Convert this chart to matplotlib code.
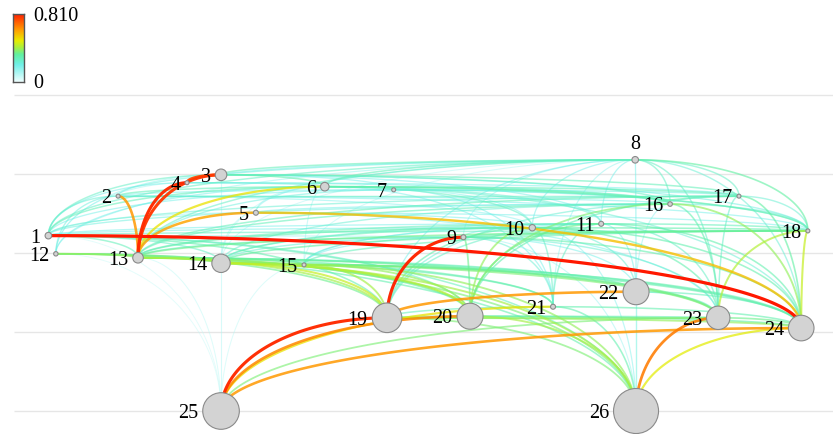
import numpy as np
import matplotlib.pyplot as plt
from matplotlib.colors import LinearSegmentedColormap, Normalize

plt.rcParams['font.family'] = ['Liberation Serif', 'DejaVu Serif']

# node layout: column position, level, and marker radius (px)
node_ids = list(range(1, 27))
node_x = [-0.08, 0.76, 2.00, 1.59, 2.42, 3.25, 4.08, 6.99, 4.92, 5.75, 6.58, 0.01, 1.00,
          2.00, 3.00, 7.41, 8.24, 9.07, 4.00, 5.00, 6.00, 7.00, 7.99, 8.99, 2.00, 7.00]
node_y = [2.22, 2.72, 2.99, 2.89, 2.51, 2.84, 2.80, 3.18, 2.20, 2.32, 2.37, 1.99, 1.94,
          1.87, 1.85, 2.62, 2.72, 2.28, 1.18, 1.20, 1.32, 1.51, 1.18, 1.05, 0.00, 0.00]
node_r = [3.3, 2.0, 5.8, 2.0, 2.5, 4.3, 2.0, 3.3, 2.5, 3.2, 2.5, 2.2, 5.3,
          9.2, 2.0, 2.3, 2.0, 2.0, 14.8, 13.0, 2.5, 13.0, 11.7, 12.8, 18.3, 22.5]

# links: source, target, weight
edge_src = [1, 13, 13, 4, 9, 25, 2, 13, 5, 13, 19, 25, 25, 25, 25, 26, 26,
            13, 13, 13, 13, 13, 13, 13, 13, 12, 12, 12, 12,
            14, 14, 14, 14, 14, 14, 15, 15, 15, 15, 1, 1, 1, 1,
            26, 26, 26, 26, 26, 26, 26, 26, 26, 26, 26,
            25, 25, 25, 25, 25,
            19, 19, 19, 19, 19, 19, 19, 19,
            20, 20, 20, 20, 20, 20, 20,
            21, 21, 21, 21, 21, 21, 21,
            22, 22, 22, 22, 22, 22, 22,
            23, 23, 23, 23, 23, 23, 23, 23, 23,
            24, 24, 24, 24, 24, 24, 24, 24,
            1, 1, 1, 1, 1, 1, 1, 1, 1, 1, 1, 1, 1,
            12, 12, 12, 12, 12,
            2, 2, 2, 2, 2, 2, 2,
            3, 3, 3, 3, 3, 3, 3,
            4, 4, 4, 4,
            6, 6, 6, 6, 6, 6, 6,
            7, 7, 7, 7,
            8, 8, 8, 8, 8, 8, 8, 8, 8, 8,
            13, 13, 13, 13, 13, 13, 13,
            14, 14, 14, 14, 14, 14, 14, 14,
            15, 15, 15, 15, 15,
            5, 5, 5, 5,
            9, 9, 10, 10, 11, 16, 16, 17]
edge_dst = [24, 4, 3, 3, 19, 19, 13, 5, 24, 6, 22, 20, 21, 24, 23, 23, 24,
            19, 20, 21, 22, 23, 24, 14, 15, 13, 14, 19, 20,
            19, 20, 21, 23, 24, 15, 19, 20, 23, 24, 13, 14, 19, 20,
            13, 14, 15, 19, 20, 12, 1, 21, 22, 10, 9,
            13, 14, 15, 1, 12,
            10, 11, 16, 8, 21, 23, 24, 20,
            9, 10, 11, 16, 17, 23, 24,
            7, 9, 10, 11, 6, 8, 24,
            8, 9, 10, 11, 16, 23, 24,
            5, 8, 9, 10, 11, 16, 17, 18, 24,
            6, 8, 9, 10, 11, 16, 17, 18,
            2, 3, 4, 5, 6, 7, 8, 9, 10, 11, 16, 17, 18,
            2, 3, 4, 6, 8,
            6, 7, 8, 10, 16, 17, 18,
            6, 7, 8, 11, 16, 17, 18,
            6, 8, 16, 17,
            7, 8, 10, 11, 16, 17, 18,
            10, 16, 17, 18,
            5, 9, 10, 11, 13, 14, 15, 16, 17, 18,
            7, 9, 10, 11, 16, 17, 18,
            3, 5, 6, 9, 10, 11, 16, 18,
            6, 9, 10, 11, 18,
            6, 10, 16, 18,
            10, 18, 11, 18, 18, 17, 18, 18]
edge_w = [0.81, 0.78, 0.76, 0.74, 0.79, 0.78, 0.62, 0.60, 0.56, 0.50, 0.62, 0.64, 0.50, 0.62, 0.36, 0.66, 0.48,
          0.40, 0.38, 0.30, 0.28, 0.33, 0.30, 0.40, 0.34, 0.38, 0.36, 0.34, 0.30,
          0.44, 0.42, 0.30, 0.36, 0.30, 0.38, 0.40, 0.38, 0.34, 0.30, 0.28, 0.26, 0.30, 0.26,
          0.36, 0.40, 0.38, 0.36, 0.40, 0.30, 0.28, 0.30, 0.22, 0.18, 0.15,
          0.10, 0.12, 0.10, 0.08, 0.08,
          0.30, 0.26, 0.24, 0.20, 0.28, 0.36, 0.38, 0.30,
          0.34, 0.38, 0.34, 0.36, 0.30, 0.30, 0.32,
          0.20, 0.24, 0.26, 0.26, 0.20, 0.16, 0.30,
          0.20, 0.20, 0.24, 0.20, 0.16, 0.26, 0.28,
          0.20, 0.26, 0.24, 0.30, 0.26, 0.30, 0.26, 0.42, 0.34,
          0.24, 0.24, 0.30, 0.30, 0.30, 0.38, 0.32, 0.44,
          0.24, 0.26, 0.20, 0.16, 0.28, 0.20, 0.26, 0.16, 0.20, 0.20, 0.22, 0.24, 0.26,
          0.22, 0.16, 0.14, 0.20, 0.16,
          0.28, 0.20, 0.22, 0.18, 0.20, 0.26, 0.20,
          0.30, 0.20, 0.28, 0.20, 0.26, 0.28, 0.22,
          0.22, 0.20, 0.22, 0.20,
          0.26, 0.28, 0.26, 0.24, 0.30, 0.28, 0.30,
          0.18, 0.22, 0.22, 0.22,
          0.16, 0.16, 0.20, 0.20, 0.26, 0.12, 0.12, 0.26, 0.26, 0.32,
          0.22, 0.26, 0.30, 0.28, 0.28, 0.28, 0.34,
          0.12, 0.12, 0.12, 0.24, 0.28, 0.24, 0.24, 0.32,
          0.14, 0.20, 0.22, 0.20, 0.28,
          0.14, 0.20, 0.20, 0.20,
          0.20, 0.24, 0.20, 0.30, 0.28, 0.20, 0.24, 0.24]

w_max = 0.810
grid_levels = [0, 1, 2, 3, 4]

cmap = LinearSegmentedColormap.from_list('link', [
    (0.00, '#f0ffff'), (0.25, '#70f0e8'), (0.40, '#60f0a0'), (0.50, '#a8f040'),
    (0.60, '#e8ec00'), (0.75, '#ffa000'), (1.00, '#ff1800')])
norm = Normalize(0, w_max)

fig = plt.figure(figsize=(8.33, 4.34), dpi=100)
ax = fig.add_axes([0, 0, 1, 1])
ax.set_xlim(-0.663, 9.373)
ax.set_ylim(-0.291, 5.203)
ax.axis('off')

ax.hlines(grid_levels, -0.494, 9.373, color='#e6e6e6', lw=1, zorder=0)


def elbow(a, b, n=80):
    # quarter ellipse: leaves the upper node horizontally, enters the lower one vertically
    xa, ya = node_x[a - 1], node_y[a - 1]
    xb, yb = node_x[b - 1], node_y[b - 1]
    if ya < yb:
        xa, ya, xb, yb = xb, yb, xa, ya
    t = np.linspace(0, np.pi / 2, n)
    return xa + (xb - xa) * np.sin(t), yb + (ya - yb) * np.cos(t)


order = np.argsort(edge_w)
for i in order:
    w = edge_w[i]
    f = w / w_max
    x, y = elbow(edge_src[i], edge_dst[i])
    ax.plot(x, y, color=cmap(norm(w)), lw=0.5 + 1.8 * f,
            alpha=0.35 + 0.65 * f, solid_capstyle='round', zorder=1 + f)

sizes = [(1.44 * r) ** 2 for r in node_r]
ax.scatter(node_x, node_y, s=sizes, color='#d3d3d3', edgecolor='#8a8a8a',
           linewidth=0.8, zorder=5)

for nid, x, y, r in zip(node_ids, node_x, node_y, node_r):
    rp = r * 0.72
    if nid == 8:
        ax.annotate(str(nid), (x, y), xytext=(0, rp + 1.5), textcoords='offset points',
                    ha='center', va='bottom', fontsize=14.5, zorder=6)
    else:
        ax.annotate(str(nid), (x, y), xytext=(-(rp + 3.2), 0), textcoords='offset points',
                    ha='right', va='center_baseline', fontsize=14.5, zorder=6)

# colour scale
cax = fig.add_axes([12.5 / 833, 1 - 82 / 434, 11.5 / 833, 68.5 / 434])
cax.imshow(np.linspace(0, 1, 256).reshape(-1, 1), cmap=cmap, aspect='auto',
           origin='lower', extent=(0, 1, 0, 1))
cax.set_xticks([])
cax.set_yticks([])
for s in cax.spines.values():
    s.set_color('#555555')
    s.set_linewidth(1.0)
fig.text(33 / 833, 1 - 14 / 434, f'{w_max:.3f}', fontsize=14.5, ha='left', va='center_baseline')
fig.text(33 / 833, 1 - 81 / 434, '0', fontsize=14.5, ha='left', va='center_baseline')

fig.savefig('out.png', dpi=100)
